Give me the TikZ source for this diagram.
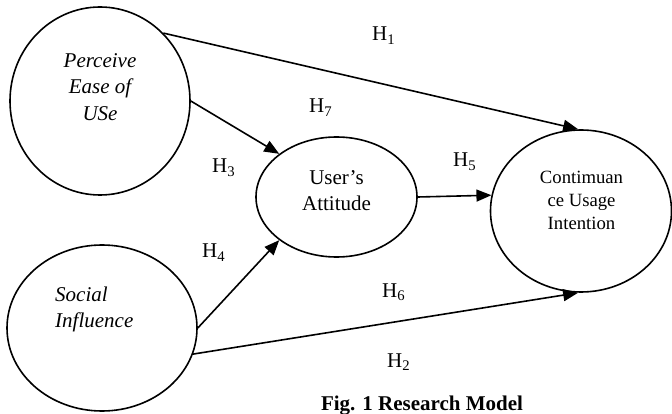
\documentclass[tikz,border=0pt]{standalone}
\usepackage{fontspec}
\setmainfont{Liberation Serif}
\usetikzlibrary{shapes.geometric,arrows.meta}
\begin{document}
\begin{tikzpicture}[x=1pt,y=-1pt,
  construct/.style={draw=black,line width=1.6pt,ellipse,inner sep=0pt},
  conn/.style={line width=1.6pt,-{Triangle[length=15pt,width=12pt]}},
  hyp/.style={anchor=base west,inner sep=0pt,font=\fontsize{21}{26}\selectfont},
  lbl/.style={inner sep=0pt,font=\fontsize{21}{26}\selectfont}
]
\useasboundingbox (0,0) rectangle (672,414);
% constructs
\node[construct,minimum width=180pt,minimum height=188pt] (pe) at (100,101) {};
\node[construct,minimum width=190pt,minimum height=166pt] (si) at (102,328) {};
\node[construct,minimum width=161pt,minimum height=120pt] (ua) at (336.5,197) {};
\node[construct,minimum width=181pt,minimum height=162pt] (ci) at (581,211) {};
% texts
\node[lbl,align=center,font=\fontsize{21}{26.5}\selectfont\itshape] (pet) at (100,87) {Perceive\\Ease of\\USe};
\node[lbl,align=left,anchor=west,font=\fontsize{21}{26}\selectfont\itshape] (sit) at (55,309) {Social\\Influence};
\node[lbl,align=center] (uat) at (336.5,191) {User’s\\Attitude};
\node[lbl,align=center,font=\fontsize{18.7}{23}\selectfont] (cit) at (581.5,200) {Contimuan\\ce Usage\\Intention};
% connectors
\draw[conn] (pe.47) -- (ci.92);
\draw[conn] (pe.east) -- (ua.143);
\draw[conn] (si.east) -- (ua.217);
\draw[conn] (ua.east) -- (ci.170);
\draw[conn] (si.-16) -- (ci.268);
% hypothesis labels
\node[hyp] (h1) at (372,41) {H\textsubscript{1}};
\node[hyp] (h7) at (309,113) {H\textsubscript{7}};
\node[hyp] (h3) at (212,173) {H\textsubscript{3}};
\node[hyp] (h5) at (453,167) {H\textsubscript{5}};
\node[hyp] (h4) at (202,258) {H\textsubscript{4}};
\node[hyp] (h6) at (382,297) {H\textsubscript{6}};
\node[hyp] (h2) at (387,367) {H\textsubscript{2}};
% caption
\node[anchor=base,inner sep=0pt,font=\fontsize{21}{26}\selectfont\bfseries] (cap) at (422,410) {Fig. 1 Research Model};
\end{tikzpicture}
\end{document}
